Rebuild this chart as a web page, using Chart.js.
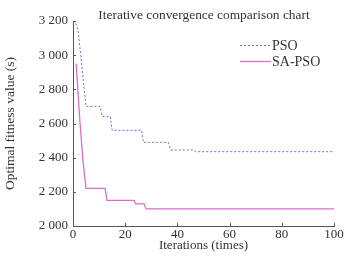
<!DOCTYPE html>
<html>
<head>
<meta charset="utf-8">
<script src="https://cdn.jsdelivr.net/npm/chart.js@4/dist/chart.umd.min.js"></script>
<style>
  html, body { margin: 0; padding: 0; background: #fff; }
  #wrap { width: 363px; height: 259px; }
</style>
</head>
<body>
<div id="wrap"><canvas id="conv"></canvas></div>
<script>
var psoX = [0, 1, 2, 5, 10.3, 11.3, 14.3, 15, 26.3, 27, 36.5, 37.5, 46, 47, 100];
var psoY = [3200, 3190, 3140, 2700, 2700, 2640, 2640, 2560, 2560, 2490, 2490, 2445, 2445, 2435, 2435];
var saX = [1.2, 2.7, 3.9, 5, 12.3, 13, 23.4, 24, 27.2, 28, 100];
var saY = [2950, 2600, 2370, 2220, 2220, 2150, 2150, 2130, 2130, 2100, 2100];
var xTicks = [0, 20, 40, 60, 80, 100];
var yTicks = [2000, 2200, 2400, 2600, 2800, 3000, 3200];

var serif = 'Liberation Serif';
var axisCol = '#555';

function pts(xs, ys) {
  return xs.map(function (x, i) { return { x: x, y: ys[i] }; });
}

function fmt(v) {
  return String(v).replace(/\B(?=(\d{3})+(?!\d))/g, ' ');
}

// inward tick marks, title and legend drawn on top
var extras = {
  id: 'extras',
  afterDraw: function (chart) {
    var c = chart.ctx, a = chart.chartArea;
    var xs = chart.scales.x, ys = chart.scales.y;
    c.save();
    c.strokeStyle = axisCol;
    c.lineWidth = 1;
    c.beginPath();
    xTicks.forEach(function (t) {
      var px = Math.round(xs.getPixelForValue(t)) + 0.5;
      c.moveTo(px, a.bottom);
      c.lineTo(px, a.bottom - 3);
    });
    yTicks.forEach(function (t) {
      var py = Math.round(ys.getPixelForValue(t)) + 0.5;
      c.moveTo(a.left, py);
      c.lineTo(a.left + 3, py);
    });
    c.stroke();

    c.fillStyle = '#333';
    c.font = '13.4px "' + serif + '"';
    c.textAlign = 'center';
    c.textBaseline = 'middle';
    c.fillText('Iterative convergence comparison chart', 204, 15);

    c.textAlign = 'left';
    c.font = '14px "' + serif + '"';
    chart.data.datasets.forEach(function (ds, i) {
      var y = 45 + i * 16;
      c.strokeStyle = ds.borderColor;
      c.lineWidth = ds.borderWidth;
      c.setLineDash(ds.borderDash || []);
      c.beginPath();
      c.moveTo(240, y + 0.5);
      c.lineTo(271, y + 0.5);
      c.stroke();
      c.setLineDash([]);
      c.fillStyle = '#333';
      c.fillText(ds.label, 272, y + 1);
    });
    c.restore();
  }
};

new Chart(document.getElementById('conv'), {
  type: 'line',
  data: {
    datasets: [{
      label: 'PSO',
      data: pts(psoX, psoY),
      borderColor: 'rgb(110,110,205)',
      borderWidth: 1,
      borderDash: [2, 2],
      pointRadius: 0,
      tension: 0
    }, {
      label: 'SA-PSO',
      data: pts(saX, saY),
      borderColor: 'rgb(215,110,205)',
      borderWidth: 1.3,
      pointRadius: 0,
      tension: 0
    }]
  },
  options: {
    responsive: true,
    maintainAspectRatio: false,
    animation: false,
    layout: { padding: { top: 21, right: 29, left: 2, bottom: 6 } },
    plugins: { legend: { display: false }, tooltip: { enabled: false } },
    scales: {
      x: {
        type: 'linear',
        min: 0, max: 100,
        afterBuildTicks: function (s) { s.ticks = xTicks.map(function (v) { return { value: v }; }); },
        afterFit: function (s) { s.height = 27; },
        grid: { drawOnChartArea: false, drawTicks: false },
        border: { color: axisCol, width: 1 },
        ticks: { color: '#333', padding: 1, maxRotation: 0, font: { family: serif, size: 13 } },
        title: { display: true, text: 'Iterations (times)', color: '#333', padding: 0, font: { family: serif, size: 13 } }
      },
      y: {
        min: 2000, max: 3200,
        afterBuildTicks: function (s) { s.ticks = yTicks.map(function (v) { return { value: v }; }); },
        afterFit: function (s) { s.width = 71; },
        grid: { drawOnChartArea: false, drawTicks: false },
        border: { color: axisCol, width: 1 },
        ticks: { color: '#333', padding: 5, font: { family: serif, size: 13 }, callback: function (v) { return fmt(v); } },
        title: { display: true, text: 'Optimal fitness value (s)', color: '#333', padding: 0, font: { family: serif, size: 13.5 } }
      }
    }
  },
  plugins: [extras]
});
</script>
</body>
</html>
